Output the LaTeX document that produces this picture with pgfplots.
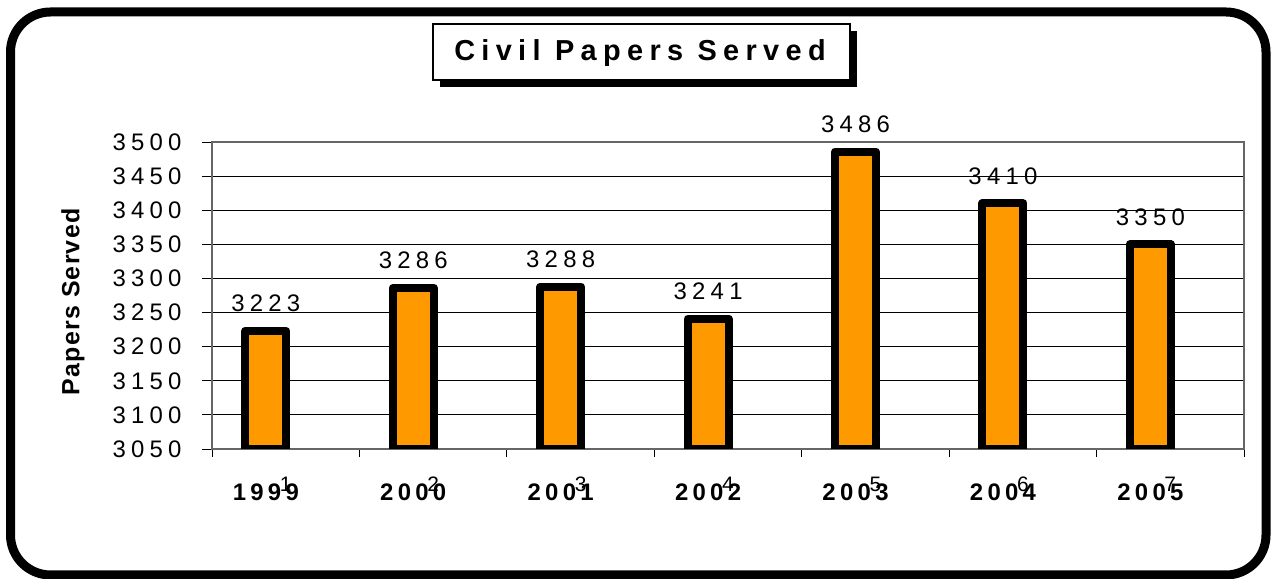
\documentclass[border=0pt]{standalone}
\usepackage{fontspec}
\setmainfont{Liberation Sans}
\newfontfamily\spfont[LetterSpace=22]{Liberation Sans}
\newfontfamily\yrfont[LetterSpace=18]{Liberation Sans}
\newfontfamily\titlefont[LetterSpace=22]{Liberation Sans}
\newfontfamily\labfont[LetterSpace=5]{Liberation Sans}
\usepackage{pgfplots}
\usepackage{pgfplotstable}
\pgfplotsset{compat=1.18}
\definecolor{barorange}{HTML}{FF9900}

\pgfplotstableread{
x v
1 3223
2 3286
3 3288
4 3241
5 3486
6 3410
7 3350
}\served

\begin{document}
\begin{tikzpicture}[x=1bp,y=1bp]
\useasboundingbox (0,0) rectangle (1275,579);
\draw[line width=9bp, rounded corners=40bp] (10.5,4) rectangle (1266,567);
\fill (440,492) rectangle (857,548);
\draw[fill=white, line width=1.2bp] (433,499) rectangle (850,555);
\node[font=\titlefont\bfseries\fontsize{29}{33}\selectfont] at (640,526) {Civil Papers Served};
\node[rotate=90, font=\labfont\bfseries\fontsize{25}{29}\selectfont] at (73,277) {Papers Served};
\begin{axis}[
  at={(212bp,130bp)}, anchor=south west,
  scale only axis, width=1032bp, height=307bp,
  xmin=0.5, xmax=7.5, ymin=0, ymax=450,
  clip=true,
  tick align=outside,
  xtick pos=left, ytick pos=left,
  xtick={1,...,7}, xticklabels={1,2,3,4,5,6,7},
  major x tick style={draw=none},
  minor xtick={0.5,1.5,...,7.5},
  minor x tick style={black, line width=0.8bp},
  minor tick length=8bp,
  major tick length=10bp,
  ytick={0,50,...,450},
  yticklabels={3050,3100,3150,3200,3250,3300,3350,3400,3450,3500},
  y tick style={black, line width=0.8bp},
  ymajorgrids=true,
  grid style={black, line width=0.8bp},
  axis line style={gray!80!black, line width=1.2bp},
  yticklabel style={font=\spfont\fontsize{24}{28}\selectfont, anchor=east, xshift=-17bp},
  xticklabel style={font=\fontsize{21}{25}\selectfont, anchor=center, yshift=-25bp},
  extra x ticks={0.865,1.865,2.865,3.865,4.865,5.865,6.865},
  extra x tick labels={1999,2000,2001,2002,2003,2004,2005},
  extra x tick style={major tick length=0pt, tick style={draw=none},
     xticklabel style={font=\yrfont\bfseries\fontsize{24}{28}\selectfont, anchor=center, yshift=-18bp}},
]
\addplot[ybar, bar width=41bp, fill=barorange, draw=black, line width=8bp, line join=round,
  nodes near coords, point meta=explicit symbolic,
  nodes near coords style={font=\spfont\fontsize{24}{28}\selectfont, anchor=south, inner sep=0pt, yshift=15bp, text=black}]
  table[x expr=\thisrow{x}-0.135, y expr=\thisrow{v}-3050, meta=v]{\served};
\end{axis}
\end{tikzpicture}
\end{document}
